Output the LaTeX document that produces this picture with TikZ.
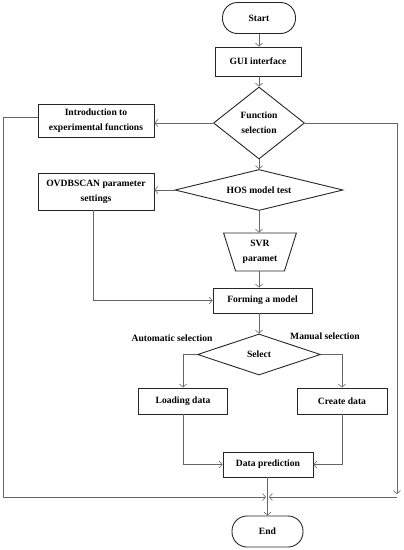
\documentclass[tikz,border=0pt]{standalone}
\usepackage{fontspec}
\setmainfont{Liberation Serif}
\usetikzlibrary{arrows.meta,shapes.geometric}
\begin{document}
\begin{tikzpicture}[x=1pt,y=-1pt,
  box/.style={draw=black!85,line width=0.9pt,rectangle,inner sep=0pt,align=center,
    font=\fontsize{9.6}{15}\selectfont\bfseries},
  term/.style={box,rounded corners=15pt},
  dia/.style={box,shape=diamond},
  lbl/.style={inner sep=0pt,font=\fontsize{9.6}{15}\selectfont\bfseries},
  conn/.style={draw=black!60,line width=0.6pt,-{Straight Barb[length=3pt,width=7pt]}},
  plain/.style={draw=black!60,line width=0.6pt}]
\useasboundingbox (0,0) rectangle (404,550);
\node[term,minimum width=73pt,minimum height=31pt] (start) at (259,18) {Start};
\node[box,minimum width=86pt,minimum height=29pt] (gui) at (258,61.5) {GUI interface};
\node[dia,aspect=1.26,minimum width=91pt,minimum height=72pt] (fs) at (259,123) {Function\\selection};
\node[box,minimum width=116pt,minimum height=33pt] (intro) at (96,120.5) {Introduction to\\experimental functions};
\node[dia,aspect=4.1,minimum width=168pt,minimum height=41pt] (hos) at (259,190) {HOS model test};
\node[box,minimum width=116pt,minimum height=37pt] (ovd) at (96,191.5) {OVDBSCAN parameter\\settings};
\node[box,trapezium,trapezium left angle=70,trapezium right angle=70,shape border rotate=180,
  trapezium stretches=true,minimum width=73pt,minimum height=38pt] (svr) at (260,252) {SVR\\paramet};
\node[box,minimum width=99pt,minimum height=25pt] (form) at (262.5,300.5) {Forming a model};
\node[dia,aspect=3,minimum width=123pt,minimum height=41pt] (sel) at (259,354.5) {Select};
\node[lbl] (auto) at (172,338) {Automatic selection};
\node[lbl] (man) at (325,336) {Manual selection};
\node[box,minimum width=89pt,minimum height=26pt] (load) at (183,401) {Loading data};
\node[box,minimum width=90pt,minimum height=26pt] (create) at (342,401) {Create data};
\node[box,minimum width=90pt,minimum height=25pt] (dp) at (268,464.5) {Data prediction};
\node[term,minimum width=71pt,minimum height=31pt] (end) at (267.5,531.5) {End};
\coordinate (lc) at (3,497);
\coordinate (rc) at (397,494);
\coordinate (rc2) at (397,497);
\coordinate (ml) at (266,497);
\coordinate (mr) at (269,497);
% main column
\draw[conn] (start.south -| 259,0) -- (gui.north -| 259,0);
\draw[conn] (gui.south -| 259,0) -- (fs.north);
\draw[conn] (fs.south) -- (hos.north);
\draw[conn] (hos.south) -- (hos.south |- svr.north);
\draw[conn] (hos.south |- svr.south) -- (hos.south |- form.north);
\draw[conn] (hos.south |- form.south) -- (sel.north);
% side branches
\draw[conn] (fs.west) -- (intro.east |- fs.west);
\draw[conn] (hos.west) -- (ovd.east |- hos.west);
\draw[conn] ([xshift=-3pt]ovd.south) |- (form.west);
\draw[conn] (sel.west) -| (load.north);
\draw[conn] (sel.east) -| (create.north);
\draw[conn] (load.south) |- (dp.west);
\draw[conn] (create.south) |- (dp.east);
\draw[conn] (dp.south -| end.north) -- (end.north);
% outer loops
\draw[conn] ([yshift=3pt]intro.west) -| (lc) -- (ml);
\draw[conn] (fs.east) -| (rc);
\draw[conn] (rc2) -- (mr);
\end{tikzpicture}
\end{document}
